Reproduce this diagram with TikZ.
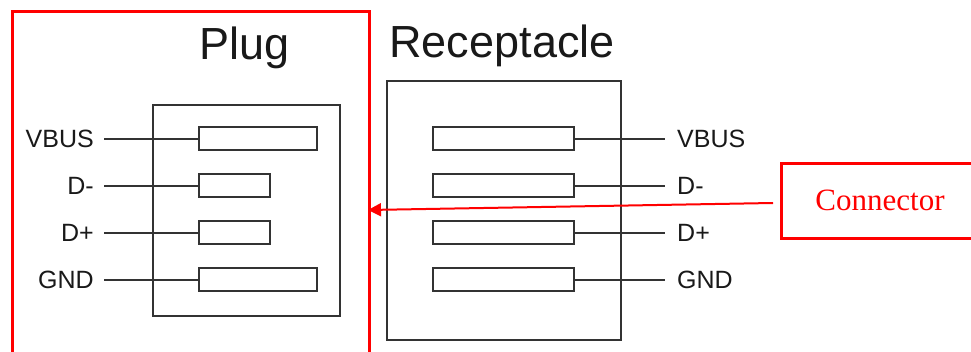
\documentclass[tikz,border=0pt]{standalone}
\usepackage{fontspec}
\setmainfont{Liberation Sans}
\newfontfamily\serifx{Liberation Serif}
\usetikzlibrary{arrows.meta}
\begin{document}
\begin{tikzpicture}[x=1pt,y=-1pt,
  pinbox/.style={draw=black!80, line width=2pt, minimum height=23pt, inner sep=0pt, anchor=west},
  lab/.style={font=\fontsize{25}{25}\selectfont, inner sep=0pt, text=black!90},
  title/.style={font=\fontsize{45}{45}\selectfont, inner sep=0pt, text=black!90, anchor=base},
  wire/.style={line width=2pt, black!80},
  framebox/.style={draw=black!80, line width=2pt, inner sep=0pt, anchor=north west},
  redbox/.style={draw=red, line width=2.6pt, inner sep=0pt, anchor=north west}]
\useasboundingbox (0,0) rectangle (971,352);
\clip (0,0) rectangle (971,352);

% red plug area
\node[redbox, minimum width=357pt, minimum height=360pt] (plugarea) at (11,10) {};
% titles
\node[title] (plugt) at (245,60) {Plug};
\node[title] (rect) at (502,58) {Receptacle};

% plug housing
\node[framebox, minimum width=187pt, minimum height=211pt] (plugbox) at (152,104) {};
% plug pins
\node[pinbox, minimum width=118pt] (pv) at (198,139) {};
\node[pinbox, minimum width=71pt]  (pm) at (198,186) {};
\node[pinbox, minimum width=71pt]  (pp) at (198,233) {};
\node[pinbox, minimum width=118pt] (pg) at (198,280) {};
\coordinate (wv) at (104,139);
\coordinate (wm) at (104,186);
\coordinate (wp) at (104,233);
\coordinate (wg) at (104,280);
\draw[wire] (wv) -- (pv.west);
\draw[wire] (wm) -- (pm.west);
\draw[wire] (wp) -- (pp.west);
\draw[wire] (wg) -- (pg.west);
\node[lab, anchor=base east] (lv) at (94,148) {VBUS};
\node[lab, anchor=base east] (lm) at (94,195) {D-};
\node[lab, anchor=base east] (lp) at (94,242) {D+};
\node[lab, anchor=base east] (lg) at (94,289) {GND};

% receptacle housing
\node[framebox, minimum width=234pt, minimum height=259pt] (recbox) at (386,80) {};
% receptacle pins
\node[pinbox, minimum width=141pt] (rv) at (432,139) {};
\node[pinbox, minimum width=141pt] (rm) at (432,186) {};
\node[pinbox, minimum width=141pt] (rp) at (432,233) {};
\node[pinbox, minimum width=141pt] (rg) at (432,280) {};
\coordinate (ev) at (665,139);
\coordinate (em) at (665,186);
\coordinate (ep) at (665,233);
\coordinate (eg) at (665,280);
\draw[wire] (rv.east) -- (ev);
\draw[wire] (rm.east) -- (em);
\draw[wire] (rp.east) -- (ep);
\draw[wire] (rg.east) -- (eg);
\node[lab, anchor=base west] (qv) at (677,148) {VBUS};
\node[lab, anchor=base west] (qm) at (677,195) {D-};
\node[lab, anchor=base west] (qp) at (677,242) {D+};
\node[lab, anchor=base west] (qg) at (677,289) {GND};

% connector callout
\node[redbox, minimum width=196pt, minimum height=75pt] (conn) at (780,162) {};
\node[font=\serifx\fontsize{31}{31}\selectfont, text=red, inner sep=0pt, anchor=base] (connt) at (880,211) {Connector};
\coordinate (arrstart) at (773,203);
\coordinate (tip) at (368,210);
\draw[red, line width=2pt, -{Triangle[length=13pt,width=13pt]}] (arrstart) -- (tip);
\end{tikzpicture}
\end{document}
